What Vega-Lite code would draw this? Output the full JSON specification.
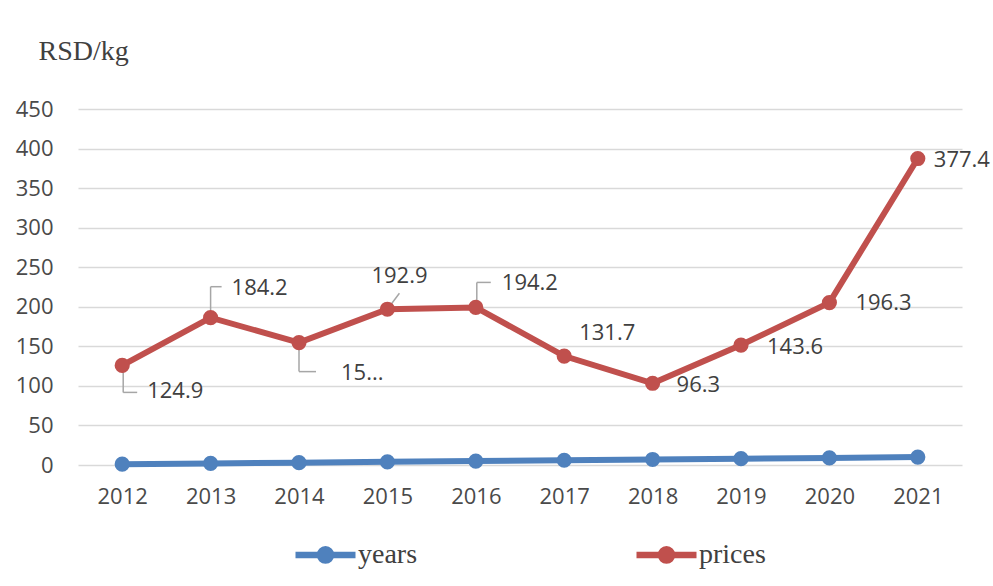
{
  "$schema": "https://vega.github.io/schema/vega-lite/v6.json",
  "width": 884,
  "height": 356,
  "autosize": "none",
  "padding": {"left": 78, "top": 109, "right": 31, "bottom": 121},
  "background": "white",
  "data": {
    "values": [
      {"year": 2012, "series": "years", "value": 1},
      {"year": 2013, "series": "years", "value": 2},
      {"year": 2014, "series": "years", "value": 3},
      {"year": 2015, "series": "years", "value": 4},
      {"year": 2016, "series": "years", "value": 5},
      {"year": 2017, "series": "years", "value": 6},
      {"year": 2018, "series": "years", "value": 7},
      {"year": 2019, "series": "years", "value": 8},
      {"year": 2020, "series": "years", "value": 9},
      {"year": 2021, "series": "years", "value": 10},
      {"year": 2012, "series": "prices", "value": 124.9},
      {"year": 2013, "series": "prices", "value": 184.2},
      {"year": 2014, "series": "prices", "value": 151.7},
      {"year": 2015, "series": "prices", "value": 192.9},
      {"year": 2016, "series": "prices", "value": 194.2},
      {"year": 2017, "series": "prices", "value": 131.7},
      {"year": 2018, "series": "prices", "value": 96.3},
      {"year": 2019, "series": "prices", "value": 143.6},
      {"year": 2020, "series": "prices", "value": 196.3},
      {"year": 2021, "series": "prices", "value": 377.4}
    ]
  },
  "transform": [
    {"stack": "value", "groupby": ["year"], "sort": [{"field": "series", "order": "descending"}], "as": ["v0", "v1"]}
  ],
  "encoding": {
    "x": {
      "field": "year", "type": "ordinal",
      "scale": {"type": "point", "padding": 0.5},
      "axis": {"title": null, "labelAngle": 0, "ticks": false, "domain": false, "labelPadding": 21, "labelFont": "Open Sans", "labelFontSize": 22, "labelColor": "#4a4a4a"}
    },
    "y": {
      "field": "v1", "type": "quantitative",
      "scale": {"domain": [0, 450], "nice": false},
      "axis": {
        "values": [0, 50, 100, 150, 200, 250, 300, 350, 400, 450],
        "title": "RSD/kg", "titleAngle": 0, "titleAlign": "left", "titleBaseline": "alphabetic",
        "titleX": -40, "titleY": -50, "titleFont": "Liberation Serif", "titleFontSize": 28, "titleFontWeight": "normal", "titleColor": "#404040",
        "ticks": false, "domain": false, "labelPadding": 25, "labelFont": "Open Sans", "labelFontSize": 22, "labelColor": "#4a4a4a",
        "grid": true, "gridColor": "#d9d9d9", "gridWidth": 1.5
      }
    }
  },
  "layer": [
    {
      "transform": [{"filter": "datum.series=='prices'"}],
      "layer": [
        {"transform": [{"filter": "datum.year==2012"}], "mark": {"type": "rule", "xOffset": 1, "y2Offset": 27}, "encoding": {"y2": {"field": "v1"}}},
        {"transform": [{"filter": "datum.year==2012"}], "mark": {"type": "rule", "xOffset": 1, "x2Offset": 15, "yOffset": 27}, "encoding": {"x2": {"field": "year"}}},
        {"transform": [{"filter": "datum.year==2013"}], "mark": {"type": "rule", "y2Offset": -31}, "encoding": {"y2": {"field": "v1"}}},
        {"transform": [{"filter": "datum.year==2013"}], "mark": {"type": "rule", "x2Offset": 11, "yOffset": -31}, "encoding": {"x2": {"field": "year"}}},
        {"transform": [{"filter": "datum.year==2014"}], "mark": {"type": "rule", "y2Offset": 29}, "encoding": {"y2": {"field": "v1"}}},
        {"transform": [{"filter": "datum.year==2014"}], "mark": {"type": "rule", "x2Offset": 17, "yOffset": 29}, "encoding": {"x2": {"field": "year"}}},
        {"transform": [{"filter": "datum.year==2015"}], "mark": {"type": "rule", "x2Offset": 12, "y2Offset": -16}, "encoding": {"x2": {"field": "year"}, "y2": {"field": "v1"}}},
        {"transform": [{"filter": "datum.year==2016"}], "mark": {"type": "rule", "xOffset": 1, "y2Offset": -25}, "encoding": {"y2": {"field": "v1"}}},
        {"transform": [{"filter": "datum.year==2016"}], "mark": {"type": "rule", "xOffset": 1, "x2Offset": 15, "yOffset": -25}, "encoding": {"x2": {"field": "year"}}}
      ]
    },
    {
      "mark": {"type": "line", "strokeWidth": 6, "point": {"size": 230, "filled": true, "opacity": 1}},
      "encoding": {
        "color": {
          "field": "series", "type": "nominal",
          "scale": {"domain": ["years", "prices"], "range": ["#4f81bd", "#c0504d"]},
          "legend": {
            "title": null, "orient": "none", "direction": "horizontal", "legendX": 224, "legendY": 422, "padding": 0,
            "symbolType": "M-1.5,0H1.5M-0.28,0A0.28,0.28 0 1,0 0.28,0A0.28,0.28 0 1,0 -0.28,0Z",
            "symbolSize": 1600, "symbolStrokeWidth": 6.5, "labelOffset": 9, "columnPadding": 205,
            "labelFont": "Liberation Serif", "labelFontSize": 28, "labelColor": "#404040",
            "encode": {"symbols": {"update": {"fill": {"scale": "color", "field": "value"}, "stroke": {"scale": "color", "field": "value"}, "opacity": {"value": 1}}}}
          }
        }
      }
    },
    {
      "transform": [{"filter": "datum.series=='prices'"}],
      "encoding": {"text": {"field": "value", "type": "quantitative", "format": ".1f"}},
      "layer": [
        {"transform": [{"filter": "datum.year==2012"}], "mark": {"type": "text", "dx": 25, "dy": 26}},
        {"transform": [{"filter": "datum.year==2013"}], "mark": {"type": "text", "dx": 21, "dy": -30}},
        {"transform": [{"filter": "datum.year==2014"}], "mark": {"type": "text", "dx": 42, "dy": 30, "limit": 45, "ellipsis": "..."}},
        {"transform": [{"filter": "datum.year==2015"}], "mark": {"type": "text", "dx": -16, "dy": -33}},
        {"transform": [{"filter": "datum.year==2016"}], "mark": {"type": "text", "dx": 26, "dy": -24}},
        {"transform": [{"filter": "datum.year==2017"}], "mark": {"type": "text", "dx": 15, "dy": -23}},
        {"transform": [{"filter": "datum.year==2018"}], "mark": {"type": "text", "dx": 24, "dy": 2}},
        {"transform": [{"filter": "datum.year==2019"}], "mark": {"type": "text", "dx": 26, "dy": 2}},
        {"transform": [{"filter": "datum.year==2020"}], "mark": {"type": "text", "dx": 26, "dy": 0}},
        {"transform": [{"filter": "datum.year==2021"}], "mark": {"type": "text", "dx": 16, "dy": 1}}
      ]
    }
  ],
  "config": {
    "view": {"stroke": null},
    "text": {"font": "Open Sans", "fontSize": 22, "fill": "#404040", "align": "left", "baseline": "middle"},
    "rule": {"stroke": "#a6a6a6", "strokeWidth": 1.5}
  }
}
